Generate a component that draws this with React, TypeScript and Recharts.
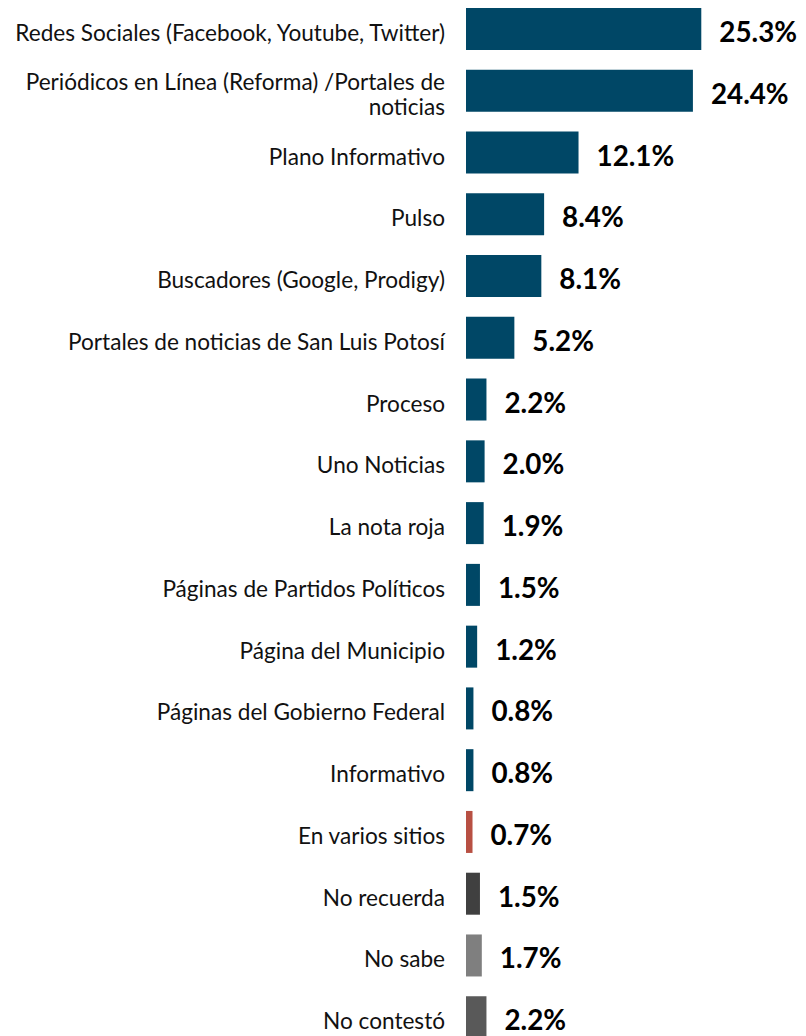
import { Bar, BarChart, Cell, LabelList, XAxis, YAxis } from "recharts";

const categories = [
  "Redes Sociales (Facebook, Youtube, Twitter)",
  "Periódicos en Línea (Reforma) /Portales de|noticias",
  "Plano Informativo",
  "Pulso",
  "Buscadores (Google, Prodigy)",
  "Portales de noticias de San Luis Potosí",
  "Proceso",
  "Uno Noticias",
  "La nota roja",
  "Páginas de Partidos Políticos",
  "Página del Municipio",
  "Páginas del Gobierno Federal",
  "Informativo",
  "En varios sitios",
  "No recuerda",
  "No sabe",
  "No contestó",
];

const values = [
  25.3, 24.4, 12.1, 8.4, 8.1, 5.2, 2.2, 2.0, 1.9, 1.5, 1.2, 0.8, 0.8, 0.7, 1.5,
  1.7, 2.2,
];

const BLUE = "#004766";
const colors = [
  ...Array(13).fill(BLUE),
  "#b85043",
  "#404040",
  "#7f7f7f",
  "#595959",
];

const data = categories.map((name, i) => ({ name, value: values[i] }));

const FONT = "Lato, 'Open Sans', sans-serif";

// category tick: right aligned, "|" splits a label over two lines
function CategoryTick(props: any) {
  const { x, y, payload } = props;
  const lines = String(payload.value).split("|");
  const lh = 25;
  const start = -((lines.length - 1) * lh) / 2 + 4;
  return (
    <text
      x={x - 13}
      y={y}
      textAnchor="end"
      fontSize={22.6}
      fontFamily={FONT}
      fill="#111"
    >
      {lines.map((l, i) => (
        <tspan key={i} x={x - 13} y={y + start + i * lh} dy="0.36em">
          {l}
        </tspan>
      ))}
    </text>
  );
}

// value label to the right of each bar
function ValueLabel(props: any) {
  const { x, y, width, height, value } = props;
  return (
    <text
      x={x + width + 18}
      y={y + height / 2 + 3}
      dy="0.36em"
      fontSize={27.8}
      fontWeight={700}
      fontFamily={FONT}
      fill="#000"
    >
      {`${Number(value).toFixed(1)}%`}
    </text>
  );
}

export default function App() {
  return (
    <div style={{ position: "fixed", left: 0, top: -2, width: 806, height: 1050, background: "#fff" }}>
      <BarChart
        width={806}
        height={1050}
        data={data}
        layout="vertical"
        margin={{ top: 0, right: 61, bottom: 0, left: 0 }}
        barSize={42}
      >
        <XAxis type="number" domain={[0, 30]} hide />
        <YAxis
          type="category"
          dataKey="name"
          width={466}
          axisLine={false}
          tickLine={false}
          tick={<CategoryTick />}
          interval={0}
        />
        <Bar dataKey="value" isAnimationActive={false}>
          {data.map((d, i) => (
            <Cell key={d.name} fill={colors[i]} />
          ))}
          <LabelList dataKey="value" content={<ValueLabel />} />
        </Bar>
      </BarChart>
    </div>
  );
}
